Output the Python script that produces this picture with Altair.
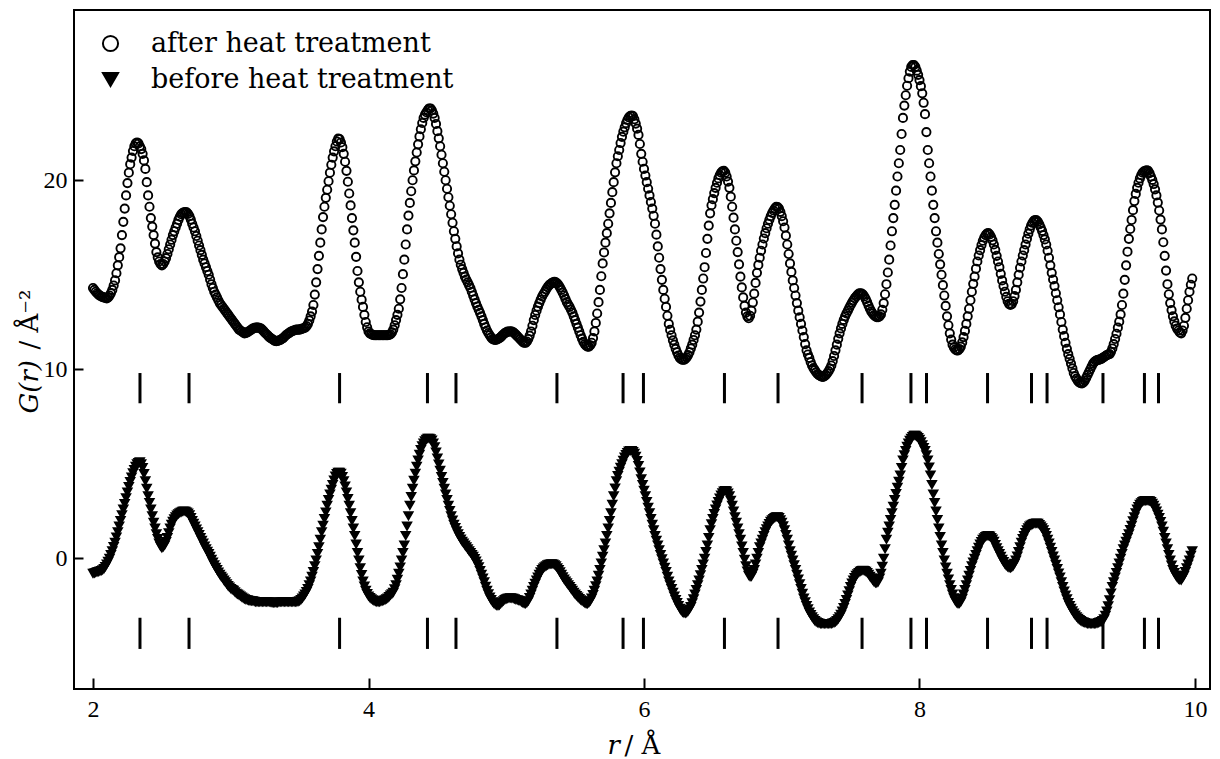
import altair as alt
import pandas as pd

# ---------------- data ----------------
SERIES = ["after heat treatment", "before heat treatment"]
R_START = 2.0     # first sample (Å)
R_STEP = 0.02     # spacing of the main samples (Å); *_MID samples sit halfway between

AFTER = [
    14.3, 14.1, 13.95, 13.85, 13.8, 13.75, 13.9, 14.2, 14.7, 15.5,
    16.4, 17.8, 19.2, 20.4, 21.2, 21.8, 22.0, 21.8, 21.4, 20.6,
    19.2, 18.0, 17.1, 16.2, 15.7, 15.5, 15.7, 16.1, 16.6, 17.1,
    17.5, 17.9, 18.2, 18.3, 18.3, 18.1, 17.7, 17.3, 16.8, 16.3,
    15.8, 15.4, 15.0, 14.5, 14.1, 13.8, 13.5, 13.3, 13.1, 12.9,
    12.7, 12.5, 12.3, 12.1, 12.0, 11.9, 11.95, 12.05, 12.15, 12.2,
    12.2, 12.15, 12.0, 11.85, 11.7, 11.6, 11.5, 11.5, 11.55, 11.65,
    11.8, 11.9, 12.0, 12.05, 12.1, 12.1, 12.15, 12.2, 12.4, 12.8,
    13.4, 14.6, 16.0, 17.4, 18.6, 19.5, 20.4, 21.2, 21.8, 22.2,
    22.0, 21.4, 20.5, 19.3, 18.0, 16.7, 15.2, 14.1, 13.3, 12.5,
    12.0, 11.85, 11.8, 11.8, 11.8, 11.8, 11.8, 11.8, 11.85, 12.1,
    12.6, 13.2, 14.3, 15.8, 17.4, 18.8, 20.0, 21.0, 21.9, 22.7,
    23.3, 23.6, 23.8, 23.7, 23.3, 22.6, 21.8, 20.9, 20.0, 19.1,
    18.2, 17.3, 16.5, 15.8, 15.3, 14.9, 14.6, 14.3, 13.9, 13.5,
    13.15, 12.8, 12.4, 12.05, 11.8, 11.6, 11.55, 11.6, 11.7, 11.85,
    11.95, 12.0, 12.0, 11.9, 11.75, 11.6, 11.45, 11.4, 11.6, 12.0,
    12.6, 13.1, 13.5, 13.85, 14.1, 14.35, 14.5, 14.6, 14.6, 14.45,
    14.2, 13.9, 13.55, 13.3, 13.0, 12.6, 12.2, 11.8, 11.45, 11.25,
    11.2, 11.4, 12.0, 12.95, 14.2, 15.6, 16.7, 17.7, 18.8, 19.9,
    20.9, 21.6, 22.3, 22.8, 23.2, 23.4, 23.4, 23.0, 22.4, 21.4,
    20.6, 19.9, 19.2, 18.5, 17.7, 16.5, 15.3, 14.2, 13.3, 12.4,
    11.8, 11.3, 10.9, 10.6, 10.5, 10.55, 10.75, 11.1, 11.55, 12.1,
    13.0, 14.2, 15.4, 16.9, 18.25, 19.0, 19.6, 20.1, 20.4, 20.5,
    20.2, 19.6, 18.6, 17.4, 16.2, 14.9, 13.8, 13.0, 12.7, 13.1,
    14.0, 15.1, 15.9, 16.6, 17.2, 17.7, 18.1, 18.4, 18.6, 18.5,
    18.1, 17.5, 16.6, 15.6, 14.7, 13.9, 13.1, 12.4, 11.7, 11.0,
    10.6, 10.2, 9.95, 9.75, 9.65, 9.6, 9.7, 9.9, 10.2, 10.7,
    11.3, 11.9, 12.4, 12.8, 13.1, 13.4, 13.65, 13.85, 14.0, 14.0,
    13.85, 13.55, 13.2, 12.95, 12.8, 12.75, 12.9, 13.5, 14.5, 15.8,
    17.3, 18.7, 20.2, 21.6, 23.3, 24.5, 25.4, 26.0, 26.1, 25.8,
    25.3, 24.6, 23.5, 21.6, 20.2, 18.7, 17.3, 16.1, 15.0, 13.9,
    12.8, 11.9, 11.3, 11.05, 11.0, 11.2, 11.7, 12.4, 13.2, 14.1,
    14.9, 15.7, 16.3, 16.8, 17.1, 17.2, 17.0, 16.6, 16.0, 15.4,
    14.7, 14.1, 13.6, 13.4, 13.6, 14.2, 15.0, 15.7, 16.3, 16.9,
    17.4, 17.75, 17.9, 17.8, 17.5, 17.1, 16.6, 15.9, 15.1, 14.4,
    13.65, 12.9, 12.1, 11.4, 10.8, 10.3, 9.8, 9.5, 9.3, 9.25,
    9.4, 9.7, 10.0, 10.3, 10.45, 10.5, 10.55, 10.65, 10.75, 10.8,
    11.1, 11.6, 12.2, 12.9, 14.0, 15.5, 16.9, 17.9, 18.9, 19.6,
    20.1, 20.4, 20.5, 20.5, 20.2, 19.8, 19.2, 18.4, 17.4, 16.0,
    14.5, 13.5, 12.8, 12.3, 12.05, 11.9, 12.3, 13.2, 14.1, 14.8,
]

AFTER_MID = [
    14.2, 14.02, 13.9, 13.82, 13.77, 13.8, 14.03, 14.43, 15.08, 15.93,
    17.1, 18.5, 19.85, 20.85, 21.55, 21.95, 21.95, 21.65, 21.05, 19.9,
    18.6, 17.55, 16.65, 15.92, 15.57, 15.57, 15.88, 16.35, 16.85, 17.3,
    17.7, 18.07, 18.27, 18.32, 18.22, 17.92, 17.5, 17.05, 16.55, 16.05,
    15.6, 15.2, 14.75, 14.3, 13.95, 13.65, 13.4, 13.2, 13.0, 12.8,
    12.6, 12.4, 12.2, 12.05, 11.95, 11.92, 12.0, 12.1, 12.18, 12.21,
    12.18, 12.08, 11.92, 11.78, 11.65, 11.55, 11.49, 11.52, 11.6, 11.72,
    11.85, 11.95, 12.03, 12.08, 12.1, 12.12, 12.17, 12.28, 12.58, 13.05,
    13.95, 15.3, 16.7, 18.05, 19.07, 19.95, 20.82, 21.53, 22.05, 22.18,
    21.75, 20.98, 19.92, 18.67, 17.35, 15.95, 14.6, 13.68, 12.88, 12.22,
    11.9, 11.82, 11.8, 11.8, 11.8, 11.8, 11.8, 11.82, 11.95, 12.33,
    12.88, 13.7, 15.03, 16.6, 18.13, 19.42, 20.52, 21.47, 22.32, 23.03,
    23.47, 23.72, 23.8, 23.53, 22.98, 22.22, 21.35, 20.45, 19.55, 18.65,
    17.75, 16.9, 16.13, 15.53, 15.1, 14.75, 14.45, 14.1, 13.7, 13.32,
    12.98, 12.6, 12.22, 11.92, 11.69, 11.56, 11.56, 11.64, 11.78, 11.91,
    11.99, 12.01, 11.96, 11.83, 11.68, 11.52, 11.4, 11.47, 11.78, 12.3,
    12.87, 13.31, 13.68, 13.98, 14.23, 14.44, 14.56, 14.62, 14.54, 14.33,
    14.05, 13.72, 13.42, 13.15, 12.8, 12.4, 12.0, 11.62, 11.33, 11.2,
    11.27, 11.65, 12.45, 13.55, 14.92, 16.18, 17.2, 18.25, 19.37, 20.42,
    21.27, 21.97, 22.57, 23.02, 23.33, 23.43, 23.23, 22.73, 21.92, 20.98,
    20.25, 19.55, 18.85, 18.12, 17.12, 15.9, 14.73, 13.73, 12.83, 12.08,
    11.53, 11.08, 10.73, 10.53, 10.5, 10.63, 10.9, 11.3, 11.8, 12.52,
    13.58, 14.8, 16.15, 17.6, 18.68, 19.32, 19.87, 20.27, 20.48, 20.4,
    19.93, 19.13, 18.02, 16.8, 15.55, 14.33, 13.35, 12.8, 12.83, 13.53,
    14.57, 15.52, 16.27, 16.92, 17.46, 17.91, 18.27, 18.52, 18.58, 18.33,
    17.83, 17.07, 16.1, 15.15, 14.3, 13.5, 12.75, 12.05, 11.33, 10.78,
    10.38, 10.06, 9.84, 9.69, 9.61, 9.63, 9.79, 10.03, 10.43, 11.0,
    11.61, 12.16, 12.61, 12.96, 13.25, 13.53, 13.76, 13.94, 14.02, 13.95,
    13.71, 13.37, 13.06, 12.86, 12.76, 12.8, 13.15, 13.97, 15.12, 16.55,
    18.0, 19.45, 20.9, 22.45, 23.95, 25.0, 25.75, 26.1, 26.0, 25.58,
    24.98, 24.1, 22.55, 20.9, 19.45, 18.0, 16.7, 15.55, 14.45, 13.35,
    12.33, 11.57, 11.15, 11.0, 11.07, 11.42, 12.03, 12.8, 13.65, 14.52,
    15.32, 16.02, 16.57, 16.97, 17.18, 17.13, 16.82, 16.32, 15.7, 15.05,
    14.4, 13.83, 13.46, 13.45, 13.87, 14.6, 15.37, 16.02, 16.6, 17.17,
    17.6, 17.85, 17.88, 17.67, 17.32, 16.87, 16.27, 15.5, 14.75, 14.02,
    13.28, 12.5, 11.75, 11.08, 10.55, 10.05, 9.63, 9.38, 9.26, 9.3,
    9.54, 9.85, 10.16, 10.39, 10.48, 10.52, 10.6, 10.7, 10.78, 10.92,
    11.33, 11.88, 12.52, 13.4, 14.73, 16.22, 17.42, 18.42, 19.28, 19.87,
    20.27, 20.47, 20.52, 20.38, 20.02, 19.52, 18.82, 17.92, 16.72, 15.22,
    13.97, 13.13, 12.53, 12.15, 11.95, 12.05, 12.72, 13.65, 14.47,
]

BEFORE = [
    -0.8, -0.75, -0.7, -0.65, -0.55, -0.3, 0.0, 0.4, 0.85, 1.4,
    2.0, 2.6, 3.2, 3.8, 4.3, 4.7, 5.0, 5.1, 4.8, 4.1,
    3.3, 2.6, 1.9, 1.3, 0.8, 0.55, 0.7, 1.1, 1.6, 1.95,
    2.2, 2.35, 2.45, 2.5, 2.45, 2.3, 2.0, 1.7, 1.4, 1.1,
    0.8, 0.5, 0.25, -0.05, -0.35, -0.6, -0.85, -1.05, -1.25, -1.45,
    -1.6, -1.7, -1.85, -1.95, -2.05, -2.15, -2.2, -2.25, -2.25, -2.3,
    -2.3, -2.3, -2.3, -2.3, -2.3, -2.35, -2.35, -2.35, -2.3, -2.3,
    -2.3, -2.3, -2.3, -2.3, -2.3, -2.25, -2.1, -1.9, -1.6, -1.2,
    -0.7, -0.1, 0.6, 1.4, 2.1, 2.8, 3.4, 3.9, 4.35, 4.55,
    4.5, 4.1, 3.5, 2.8, 2.0, 1.2, 0.3, -0.5, -1.2, -1.7,
    -2.0, -2.15, -2.25, -2.3, -2.3, -2.25, -2.2, -2.1, -1.95, -1.8,
    -1.4, -0.8, -0.1, 0.7, 1.7, 2.8, 3.7, 4.5, 5.2, 5.75,
    6.1, 6.3, 6.35, 6.25, 5.9, 5.3, 4.65, 4.0, 3.4, 2.8,
    2.25, 1.8, 1.45, 1.15, 0.9, 0.7, 0.5, 0.3, 0.1, -0.15,
    -0.45, -0.85, -1.25, -1.7, -2.05, -2.3, -2.45, -2.5, -2.4, -2.25,
    -2.15, -2.1, -2.1, -2.15, -2.2, -2.25, -2.35, -2.4, -2.25, -1.9,
    -1.5, -1.15, -0.85, -0.6, -0.45, -0.35, -0.3, -0.3, -0.4, -0.6,
    -0.85, -1.1, -1.3, -1.5, -1.7, -1.9, -2.05, -2.2, -2.3, -2.4,
    -2.35, -2.1, -1.7, -1.2, -0.6, 0.1, 0.8, 1.6, 2.4, 3.3,
    4.1, 4.6, 5.0, 5.35, 5.6, 5.7, 5.65, 5.4, 4.9, 4.2,
    3.6, 3.0, 2.4, 1.8, 1.2, 0.7, 0.2, -0.25, -0.7, -1.2,
    -1.6, -2.0, -2.35, -2.65, -2.85, -2.9, -2.8, -2.55, -2.15, -1.65,
    -1.15, -0.6, 0.0, 0.7, 1.5, 2.1, 2.6, 3.0, 3.35, 3.55,
    3.55, 3.3, 2.8, 2.2, 1.6, 1.0, 0.3, -0.4, -0.9, -0.95,
    -0.6, 0.0, 0.6, 1.0, 1.4, 1.7, 1.95, 2.1, 2.2, 2.15,
    1.9, 1.5, 1.0, 0.4, -0.1, -0.6, -1.1, -1.6, -2.1, -2.5,
    -2.85, -3.1, -3.3, -3.4, -3.45, -3.45, -3.45, -3.45, -3.45, -3.4,
    -3.3, -3.1, -2.8, -2.4, -1.95, -1.5, -1.15, -0.9, -0.75, -0.65,
    -0.65, -0.75, -0.95, -1.15, -1.3, -1.25, -0.8, 0.0, 1.0, 1.7,
    2.4, 3.1, 3.75, 4.4, 5.2, 5.7, 6.1, 6.35, 6.5, 6.45,
    6.3, 6.0, 5.7, 5.2, 4.4, 3.4, 2.5, 1.6, 0.7, -0.1,
    -0.8, -1.4, -1.9, -2.25, -2.4, -2.3, -1.9, -1.4, -0.9, -0.4,
    0.0, 0.4, 0.75, 1.0, 1.15, 1.2, 1.1, 0.9, 0.55, 0.25,
    -0.05, -0.3, -0.45, -0.5, -0.4, -0.1, 0.35, 0.85, 1.2, 1.5,
    1.7, 1.8, 1.85, 1.85, 1.7, 1.5, 1.2, 0.8, 0.35, -0.1,
    -0.55, -1.0, -1.5, -1.95, -2.35, -2.65, -2.9, -3.1, -3.25, -3.35,
    -3.4, -3.45, -3.45, -3.45, -3.45, -3.4, -3.35, -3.2, -2.8, -2.2,
    -1.5, -1.0, -0.5, 0.0, 0.5, 0.9, 1.3, 1.75, 2.2, 2.6,
    2.85, 3.0, 3.05, 3.05, 3.0, 2.8, 2.5, 2.15, 1.7, 1.1,
    0.5, -0.1, -0.6, -0.9, -1.1, -1.15, -0.9, -0.5, -0.1, 0.4,
]

BEFORE_MID = [
    -0.78, -0.72, -0.68, -0.61, -0.44, -0.16, 0.19, 0.62, 1.12, 1.7,
    2.3, 2.9, 3.5, 4.06, 4.52, 4.87, 5.07, 5.0, 4.48, 3.7,
    2.95, 2.25, 1.6, 1.04, 0.64, 0.6, 0.88, 1.35, 1.8, 2.09,
    2.29, 2.41, 2.49, 2.49, 2.39, 2.16, 1.85, 1.55, 1.25, 0.95,
    0.65, 0.37, 0.1, -0.2, -0.48, -0.73, -0.95, -1.15, -1.35, -1.53,
    -1.65, -1.78, -1.9, -2.0, -2.1, -2.18, -2.23, -2.25, -2.28, -2.3,
    -2.3, -2.3, -2.3, -2.3, -2.32, -2.35, -2.35, -2.32, -2.3, -2.3,
    -2.3, -2.3, -2.3, -2.3, -2.28, -2.18, -2.0, -1.76, -1.4, -0.96,
    -0.4, 0.25, 1.0, 1.75, 2.45, 3.1, 3.65, 4.14, 4.48, 4.55,
    4.33, 3.82, 3.16, 2.4, 1.6, 0.75, -0.1, -0.86, -1.47, -1.87,
    -2.08, -2.2, -2.28, -2.3, -2.28, -2.23, -2.15, -2.03, -1.88, -1.62,
    -1.12, -0.46, 0.3, 1.2, 2.25, 3.27, 4.12, 4.87, 5.5, 5.95,
    6.22, 6.35, 6.32, 6.1, 5.62, 4.98, 4.32, 3.7, 3.1, 2.52,
    2.02, 1.62, 1.29, 1.02, 0.8, 0.6, 0.4, 0.2, -0.02, -0.3,
    -0.65, -1.05, -1.48, -1.88, -2.19, -2.39, -2.49, -2.47, -2.32, -2.19,
    -2.12, -2.09, -2.12, -2.18, -2.22, -2.3, -2.39, -2.35, -2.08, -1.7,
    -1.32, -1.0, -0.72, -0.52, -0.4, -0.32, -0.29, -0.34, -0.5, -0.72,
    -0.98, -1.2, -1.4, -1.6, -1.8, -1.98, -2.13, -2.25, -2.36, -2.4,
    -2.25, -1.92, -1.46, -0.9, -0.25, 0.45, 1.2, 2.0, 2.85, 3.72,
    4.37, 4.81, 5.19, 5.49, 5.67, 5.7, 5.55, 5.17, 4.56, 3.9,
    3.3, 2.7, 2.1, 1.5, 0.95, 0.45, -0.03, -0.48, -0.95, -1.4,
    -1.8, -2.18, -2.5, -2.76, -2.89, -2.87, -2.69, -2.36, -1.9, -1.4,
    -0.88, -0.3, 0.35, 1.1, 1.82, 2.36, 2.81, 3.19, 3.47, 3.58,
    3.45, 3.07, 2.5, 1.9, 1.3, 0.65, -0.05, -0.68, -0.97, -0.8,
    -0.3, 0.3, 0.8, 1.2, 1.56, 1.83, 2.03, 2.16, 2.19, 2.04,
    1.72, 1.26, 0.7, 0.15, -0.35, -0.85, -1.35, -1.85, -2.3, -2.68,
    -2.98, -3.2, -3.36, -3.43, -3.45, -3.45, -3.45, -3.45, -3.43, -3.36,
    -3.21, -2.96, -2.61, -2.18, -1.72, -1.31, -1.02, -0.82, -0.69, -0.64,
    -0.69, -0.85, -1.05, -1.24, -1.3, -1.05, -0.42, 0.5, 1.37, 2.05,
    2.75, 3.43, 4.07, 4.8, 5.47, 5.92, 6.24, 6.44, 6.5, 6.39,
    6.16, 5.86, 5.47, 4.82, 3.9, 2.95, 2.05, 1.15, 0.3, -0.46,
    -1.1, -1.66, -2.09, -2.35, -2.38, -2.12, -1.65, -1.15, -0.65, -0.2,
    0.2, 0.58, 0.89, 1.08, 1.19, 1.17, 1.01, 0.73, 0.4, 0.1,
    -0.18, -0.39, -0.49, -0.47, -0.27, 0.12, 0.6, 1.04, 1.36, 1.61,
    1.76, 1.83, 1.86, 1.79, 1.61, 1.36, 1.0, 0.58, 0.12, -0.32,
    -0.78, -1.25, -1.73, -2.15, -2.5, -2.78, -3.0, -3.18, -3.3, -3.38,
    -3.43, -3.45, -3.45, -3.45, -3.43, -3.38, -3.29, -3.02, -2.52, -1.84,
    -1.25, -0.75, -0.25, 0.25, 0.7, 1.1, 1.52, 1.98, 2.41, 2.74,
    2.94, 3.04, 3.06, 3.04, 2.91, 2.66, 2.33, 1.94, 1.42, 0.8,
    0.2, -0.36, -0.76, -1.01, -1.14, -1.04, -0.7, -0.3, 0.15,
]

# reference peak positions (vertical bars), drawn in two rows
BAR_R = [2.341, 2.697, 3.790, 4.428, 4.635, 5.368, 5.848, 5.996, 6.584,
         6.973, 7.583, 7.938, 8.051, 8.494, 8.813, 8.926, 9.332, 9.633, 9.735]
BAR_ROWS = [(8.2, 9.8), (-4.8, -3.15)]

X_TICKS = [2, 4, 6, 8, 10]
Y_TICKS = [0, 10, 20]
X_DOMAIN = [1.862, 10.109]
Y_DOMAIN = [-6.92, 29.01]

# ---------------- tables ----------------
rows = []
for name, main, mid in zip(SERIES, [AFTER, BEFORE], [AFTER_MID, BEFORE_MID]):
    for i, g in enumerate(main):
        rows.append({"r": round(R_START + i * R_STEP, 4), "G": g, "series": name})
    for i, g in enumerate(mid):
        rows.append({"r": round(R_START + (i + 0.5) * R_STEP, 4), "G": g, "series": name})
pts = pd.DataFrame(rows).sort_values(["series", "r"])
bars = pd.DataFrame([{"r": r, "y1": lo, "y2": hi} for (lo, hi) in BAR_ROWS for r in BAR_R])

W, H = 1136, 679
TICK_FONT = "Liberation Serif"
TEXT_FONT = "DejaVu Serif"

x_scale = alt.Scale(domain=X_DOMAIN, nice=False, zero=False)
y_scale = alt.Scale(domain=Y_DOMAIN, nice=False, zero=False)

legend = alt.Legend(
    title=None, orient="none", legendX=23, legendY=20,
    labelFont=TEXT_FONT, labelFontSize=27, labelColor="black", labelOffset=27,
    labelLimit=600, symbolSize=230, symbolStrokeWidth=2, rowPadding=8,
)

points = alt.Chart(pts).mark_point(filled=True, size=68, strokeWidth=1.9, opacity=1).encode(
    x=alt.X("r:Q", scale=x_scale, axis=alt.Axis(
        orient="bottom", values=X_TICKS, ticks=False, domain=False, grid=False,
        labelFont=TICK_FONT, labelFontSize=24, labelColor="black", labelPadding=8,
        title="r", titleFont=TEXT_FONT, titleFontStyle="italic", titleFontWeight="normal",
        titleFontSize=26, titleColor="black", titleX=533, titleY=64,
        titleAlign="left", titleBaseline="alphabetic")),
    y=alt.Y("G:Q", scale=y_scale, axis=alt.Axis(
        orient="left", values=Y_TICKS, ticks=False, domain=False, grid=False,
        labelFont=TICK_FONT, labelFontSize=24, labelColor="black", labelPadding=7,
        title="G(r)", titleFont=TEXT_FONT, titleFontStyle="italic", titleFontWeight="normal",
        titleFontSize=26, titleColor="black", titleAngle=270, titleX=-37, titleY=403,
        titleAlign="left", titleBaseline="alphabetic")),
    shape=alt.Shape("series:N", scale=alt.Scale(domain=SERIES, range=["circle", "triangle-down"]), legend=legend),
    fill=alt.Fill("series:N", scale=alt.Scale(domain=SERIES, range=["transparent", "black"]), legend=legend),
    stroke=alt.Stroke("series:N", scale=alt.Scale(domain=SERIES, range=["black", "black"]), legend=legend),
)

rules = alt.Chart(bars).mark_rule(color="black", strokeWidth=3).encode(
    x=alt.X("r:Q", scale=x_scale, axis=alt.Axis(
        orient="top", offset=-H, values=X_TICKS, labels=False, domain=False, grid=False,
        ticks=True, tickSize=11, tickWidth=2, tickColor="black",
        title="/ Å", titleFont=TEXT_FONT, titleFontWeight="normal", titleFontSize=26,
        titleColor="black", titleX=550, titleY=64, titleAlign="left", titleBaseline="alphabetic")),
    y=alt.Y("y1:Q", scale=y_scale, axis=alt.Axis(
        orient="right", offset=-W, values=Y_TICKS, labels=False, domain=False, grid=False,
        ticks=True, tickSize=9, tickWidth=2, tickColor="black",
        title="/ Å⁻²", titleFont=TEXT_FONT, titleFontWeight="normal", titleFontSize=26,
        titleColor="black", titleAngle=270, titleX=-37, titleY=339,
        titleAlign="left", titleBaseline="alphabetic")),
    y2="y2:Q",
)

chart = alt.layer(points, rules).resolve_axis(x="independent", y="independent").properties(
    width=W, height=H,
    autosize=alt.AutoSizeParams(type="none"),
    padding={"left": 74, "top": 10, "right": 10, "bottom": 70},
    background="white",
).configure_view(stroke="black", strokeWidth=2)

chart.save("out.html", embed_options={"renderer": "svg", "actions": False})
